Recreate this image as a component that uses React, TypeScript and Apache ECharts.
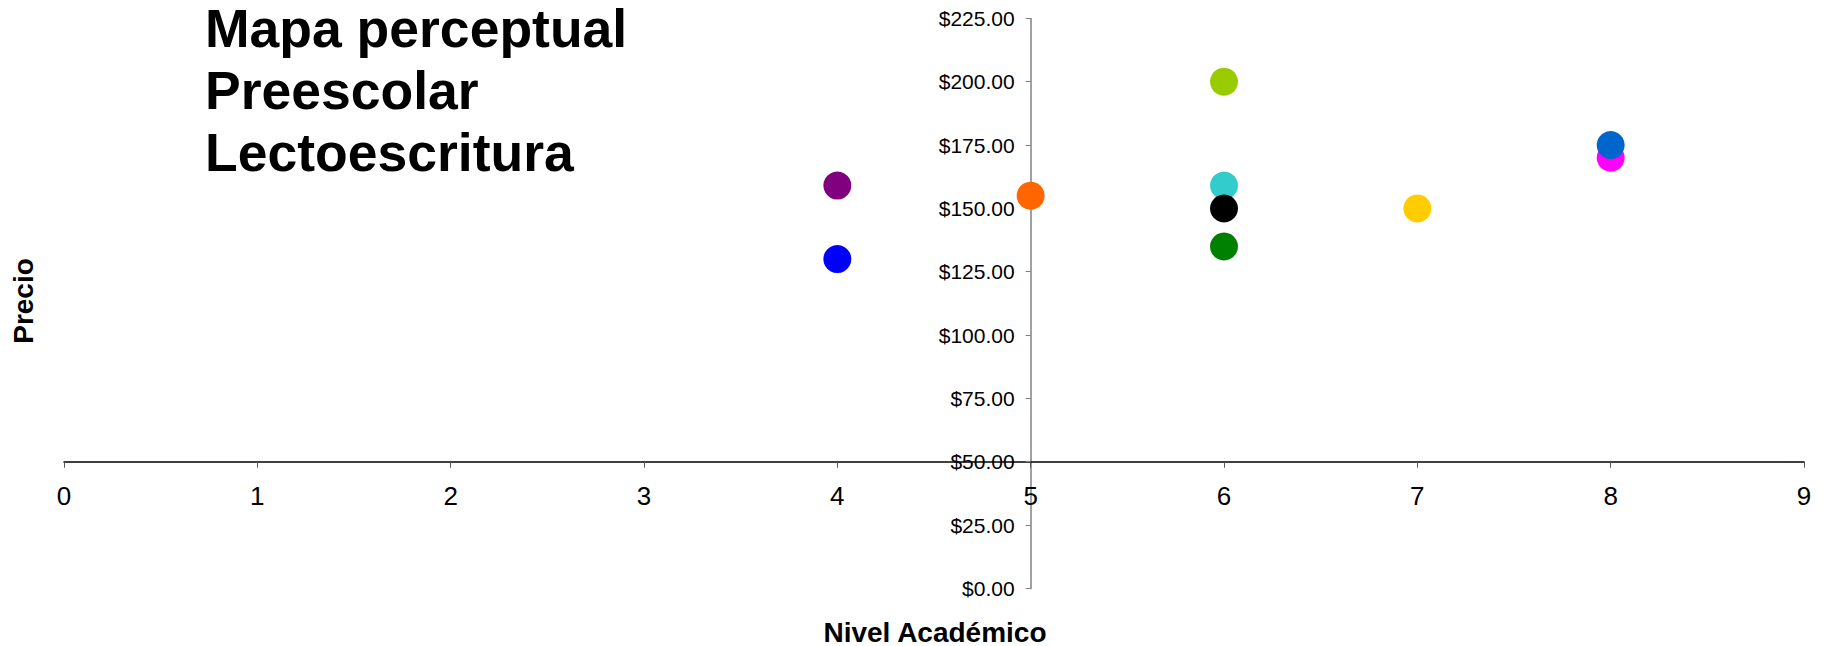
import React, { useEffect, useRef } from "react";
import * as echarts from "echarts";

// Nivel académico (x) y precio (y) de cada producto, con su color
const nivel = [4, 4, 5, 6, 6, 6, 6, 7, 8, 8];
const precio = [159, 130, 155, 200, 159, 150, 135, 150, 170, 175];
const colores = [
  "#800080",
  "#0000FF",
  "#FF6600",
  "#99CC00",
  "#33CCCC",
  "#000000",
  "#008000",
  "#FFCC00",
  "#FF00FF",
  "#0066CC",
];

const tituloLineas = ["Mapa perceptual", "Preescolar", "Lectoescritura"];
const ejeXNombre = "Nivel Académico";
const ejeYNombre = "Precio";

// Rango de los ejes y punto donde se cruzan
const xMin = 0;
const xMax = 9;
const xPaso = 1;
const yMin = 0;
const yMax = 225;
const yPaso = 25;
const cruceX = 5;
const cruceY = 50;

const W = 1825;
const H = 646;
const FONT = "'Liberation Sans', Arial, sans-serif";

export default function App() {
  const ref = useRef<HTMLDivElement>(null);

  useEffect(() => {
    if (!ref.current) return;
    const chart = echarts.init(ref.current, null, { renderer: "svg" });

    const grid = { left: 64, top: 18.4, width: 1740, height: 570 };
    // desplazamientos para que cada eje pase por el valor de cruce del otro
    const offsetY = -((cruceX - xMin) / (xMax - xMin)) * grid.width;
    const offsetX = -((cruceY - yMin) / (yMax - yMin)) * grid.height;

    chart.setOption({
      animation: false,
      backgroundColor: "#ffffff",
      grid: { ...grid, containLabel: false },
      xAxis: {
        type: "value",
        min: xMin,
        max: xMax,
        interval: xPaso,
        position: "bottom",
        offset: offsetX,
        splitLine: { show: false },
        axisLine: { onZero: false, lineStyle: { color: "#000000", width: 1.5 } },
        axisTick: { show: true, length: 6, lineStyle: { color: "#555555", width: 1 } },
        axisLabel: {
          margin: 21,
          color: "#000000",
          fontFamily: FONT,
          fontSize: 26,
        },
      },
      yAxis: {
        type: "value",
        min: yMin,
        max: yMax,
        interval: yPaso,
        position: "left",
        offset: offsetY,
        splitLine: { show: false },
        axisLine: { onZero: false, lineStyle: { color: "#808080", width: 1.5 } },
        axisTick: { show: true, length: 5, lineStyle: { color: "#808080", width: 1 } },
        axisLabel: {
          margin: 16,
          color: "#000000",
          fontFamily: FONT,
          fontSize: 21,
          formatter: (v: number) => "$" + v.toFixed(2),
        },
      },
      series: [
        {
          type: "scatter",
          symbol: "circle",
          symbolSize: 28,
          itemStyle: { opacity: 1 },
          emphasis: { disabled: true },
          data: nivel.map((x, i) => ({
            value: [x, precio[i]],
            itemStyle: { color: colores[i], opacity: 1 },
          })),
        },
      ],
      graphic: [
        ...tituloLineas.map((linea, i) => ({
          type: "text",
          x: 205,
          y: 28.5 + i * 62,
          style: {
            text: linea,
            fontFamily: FONT,
            fontSize: 53.5,
            fontWeight: "bold",
            fill: "#000000",
            verticalAlign: "middle",
            align: "left",
          },
        })),
        {
          type: "text",
          x: 23,
          y: 301,
          rotation: Math.PI / 2,
          style: {
            text: ejeYNombre,
            fontFamily: FONT,
            fontSize: 28,
            fontWeight: "bold",
            fill: "#000000",
            align: "center",
            verticalAlign: "middle",
          },
        },
        {
          type: "text",
          x: 935,
          y: 632,
          style: {
            text: ejeXNombre,
            fontFamily: FONT,
            fontSize: 28,
            fontWeight: "bold",
            fill: "#000000",
            align: "center",
            verticalAlign: "middle",
          },
        },
      ],
    });

    return () => chart.dispose();
  }, []);

  return (
    <div
      ref={ref}
      style={{ position: "absolute", left: 0, top: 0, width: W, height: H }}
    />
  );
}
